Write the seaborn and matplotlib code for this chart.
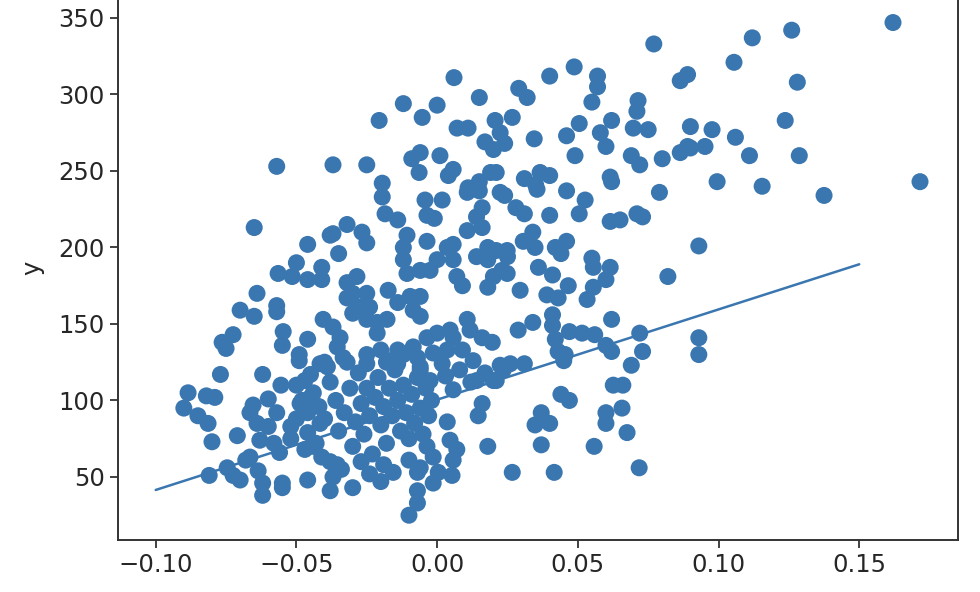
import matplotlib
matplotlib.use("Agg")
import matplotlib.pyplot as plt
import seaborn as sns
import pandas as pd

# scatter points (x = feature, y = target)
x_upper = [0.162, 0.1716, 0.126, 0.112, 0.1055, 0.128, 0.077, 0.0487, 0.057, 0.057, 0.055, 0.040, 0.006, 0.015,
           0.029, 0.032, -0.012, 0.000, 0.0714, 0.071, 0.0864, 0.089, -0.0206, -0.0053, 0.0071, 0.011, 0.0206,
           0.0224, 0.017, 0.020, 0.024, -0.006, -0.009, 0.001, -0.037, -0.025, -0.0195, -0.0064, 0.004, 0.0057,
           0.019, 0.021, 0.015, 0.011, -0.057, 0.0267, 0.0505, 0.062, 0.058, 0.060, 0.046, 0.0345, 0.0697, 0.075,
           0.049, 0.069, 0.072, 0.080, 0.0864, 0.089, 0.0615, 0.062, 0.0366, 0.040, 0.031, 0.035, 0.046, 0.079,
           0.1237, 0.090, 0.0977, 0.0952, 0.106, 0.090, 0.111, 0.1287, 0.0995, 0.1155, 0.1375, 0.093, 0.093, 0.093]
y_upper = [347, 243, 342, 337, 321, 308, 333, 318, 312, 305, 295, 312, 311, 298,
           304, 298, 294, 293, 296, 289, 309, 313, 283, 285, 278, 278, 283,
           275, 269, 264, 268, 262, 258, 260, 254, 254, 242, 249, 247, 251,
           249, 249, 243, 239, 253, 285, 281, 283, 275, 266, 273, 271, 278, 277,
           260, 260, 254, 258, 262, 266, 246, 243, 249, 247, 245, 241, 237, 236,
           283, 279, 277, 266, 272, 265, 260, 260, 243, 240, 234, 201, 141, 130]

x_right = [0.024, 0.0355, 0.0526, 0.0505, 0.040, 0.028, 0.031, 0.0615, 0.065, 0.071, 0.073, 0.034, 0.0306,
           0.0348, 0.0249, 0.046, 0.042, 0.044, 0.055, 0.0555, 0.0615, 0.060, 0.082, 0.0249, 0.036, 0.041,
           0.0466, 0.0295, 0.039, 0.043, 0.0555, 0.0533, 0.041, 0.041, 0.034, 0.0288, 0.062, 0.047, 0.0515,
           0.056, 0.042, 0.043, 0.0455, 0.060, 0.062, 0.072, 0.073, 0.069, 0.026, 0.031,
           0.045, 0.0626, 0.066, 0.044, 0.047, 0.060, 0.0657, 0.060, 0.037, 0.0348, 0.040, 0.0675, 0.037,
           0.0558, 0.0267, 0.0416, 0.0718]
y_right = [234, 238, 231, 222, 221, 226, 222, 217, 218, 222, 220, 210, 204,
           200, 198, 204, 200, 196, 193, 187, 187, 179, 181, 183, 187, 182,
           175, 172, 169, 167, 174, 166, 156, 149, 151, 146, 153, 145, 144,
           143, 140, 132, 130, 136, 132, 144, 132, 123, 124, 124,
           126, 110, 110, 104, 100, 92, 95, 85, 92, 84, 85, 79, 71,
           70, 53, 53, 56]

x_low = [0.016, 0.0146, 0.018, 0.0036, 0.0046, 0.007, 0.0057, 0.0053, -0.0014, 0.0004, -0.0036, -0.0014,
         -0.010, -0.006, -0.007, -0.007, -0.007, -0.010, -0.0156, -0.020, -0.030, -0.038, -0.037, -0.0355,
         -0.014, -0.006, -0.0025, 0.0057, 0.014, 0.020, 0.0235,
         -0.077, -0.062, -0.0555, -0.0885, -0.082, -0.079, -0.090, -0.085, -0.0814, -0.080, -0.081, -0.0654,
         -0.060, -0.071, -0.0746, -0.0725, -0.070, -0.0665, -0.068, -0.062, -0.062, -0.055, -0.055, -0.0636,
         -0.058, -0.063, -0.056, -0.060, -0.064, -0.0665, -0.057, -0.052, -0.047, -0.045, -0.0416, -0.049,
         -0.0487, -0.045, -0.046, -0.0416, -0.044, -0.041, -0.046]
y_low = [98, 90, 70, 86, 74, 68, 61, 51, 46, 53, 70, 63,
         61, 56, 53, 41, 33, 25, 53, 47, 43, 41, 50, 58,
         124, 122, 113, 107, 113, 113, 120,
         117, 117, 110, 105, 103, 102, 95, 90, 85, 73, 51, 97,
         101, 77, 56, 51, 48, 63, 61, 38, 46, 43, 46, 54,
         72, 74, 66, 83, 85, 92, 92, 83, 113, 117, 124, 126,
         98, 102, 79, 85, 70, 63, 48]

x_left = [-0.065, -0.046, -0.050, -0.0565, -0.0515, -0.041, -0.046, -0.041, -0.038, -0.064, -0.057, -0.057,
          -0.070, -0.065, -0.0405, -0.0547, -0.055, -0.046, -0.049, -0.0725, -0.0764, -0.075, -0.040]
y_left = [213, 202, 190, 183, 181, 187, 179, 179, 208, 170, 162, 158,
          159, 155, 153, 145, 136, 140, 130, 143, 138, 134, 125]

x_mid = [-0.0195, -0.0043, 0.0018, -0.0036, -0.001, 0.0107, 0.015, 0.0224, 0.016, 0.014, 0.0107, 0.016,
         -0.0185, -0.014, -0.032, -0.037, -0.0267, -0.025, -0.035, -0.0107, -0.012, -0.012, -0.0107, -0.0036,
         0.0036, 0.0057, 0.000, -0.006, -0.0025, 0.0057, 0.007, 0.009, 0.014, 0.018, 0.021, 0.025, 0.018,
         0.020, 0.018, 0.023, -0.032, -0.0285, -0.025, -0.030, -0.032, -0.0274, -0.024, -0.030, -0.0174,
         -0.014, -0.0096, -0.006, -0.0085, -0.006, -0.025, -0.0213, -0.0178, -0.0213, -0.037, -0.0345,
         -0.0355, -0.0334, -0.020, -0.014, -0.0167, -0.025, -0.0085, -0.007, -0.0036, 0.000, 0.0046, 0.0057,
         -0.0014, 0.0036, 0.0018, 0.0107, 0.0117, 0.016, 0.0196, 0.009, 0.0128, 0.0224]
y_mid = [233, 231, 231, 221, 219, 236, 237, 236, 226, 220, 211, 213,
         222, 218, 215, 209, 210, 203, 196, 208, 200, 192, 183, 204,
         200, 202, 192, 185, 185, 192, 181, 175, 194, 200, 198, 194, 192,
         181, 174, 185, 177, 181, 170, 170, 167, 161, 161, 157, 172,
         164, 168, 168, 159, 155, 153, 151, 153, 144, 148, 141,
         135, 128, 133, 133, 126, 124, 135, 128, 141, 144, 146, 141,
         131, 133, 124, 153, 146, 141, 138, 133, 126, 123]

x_blob = [-0.050, -0.048, -0.046, -0.044, -0.042, -0.040, -0.038, -0.036, -0.035, -0.033, -0.031, -0.030,
          -0.029, -0.028, -0.027, -0.026, -0.025, -0.024, -0.023, -0.022, -0.021, -0.020, -0.019, -0.018,
          -0.017, -0.016, -0.015, -0.014, -0.013, -0.012, -0.011, -0.010, -0.009, -0.008, -0.007, -0.006,
          -0.005, -0.004, -0.003, -0.002, -0.038, -0.034, -0.027, -0.024, -0.019, -0.052, -0.050, -0.047,
          -0.043, -0.039, -0.032, -0.025, -0.018, -0.012, -0.006, 0.003, 0.008, 0.012, 0.017, 0.021]
y_blob = [110, 100, 92, 105, 96, 88, 112, 100, 80, 92, 108, 70,
          86, 118, 98, 78, 108, 90, 65, 102, 115, 84, 96, 72,
          108, 90, 120, 100, 80, 110, 92, 75, 104, 85, 115, 95,
          78, 108, 90, 100, 60, 55, 60, 52, 58, 75, 88, 68,
          72, 122, 125, 130, 125, 130, 120, 116, 120, 112, 118, 113]

# fitted line end points
line_x = [-0.10, 0.15]
line_y = [41.5, 189.0]

x_ticks = [-0.10, -0.05, 0.00, 0.05, 0.10, 0.15]
y_ticks = [50, 100, 150, 200, 250, 300, 350]

df = pd.DataFrame({
    "x": x_upper + x_right + x_low + x_left + x_mid + x_blob,
    "y": y_upper + y_right + y_low + y_left + y_mid + y_blob,
})
line_df = pd.DataFrame({"x": line_x, "y": line_y})

sns.set_style("ticks")
plt.rcParams["font.family"] = ["DejaVu Sans"]
color = "#3a76af"

fig = plt.figure(figsize=(9.8, 5.92), dpi=100)
ax = fig.add_axes([118 / 980, 52 / 592, 840 / 980, 545 / 592])

sns.scatterplot(data=df, x="x", y="y", ax=ax, s=150, color=color, edgecolor="none", linewidth=0)
sns.lineplot(data=line_df, x="x", y="y", ax=ax, color=color, linewidth=1.8)

ax.set_xlim(-0.1134, 0.1851)
ax.set_ylim(8.8, 365)
ax.set_xticks(x_ticks)
ax.set_xticklabels([f"{v:.2f}".replace("-", "\u2212") for v in x_ticks])
ax.set_yticks(y_ticks)
ax.set_yticklabels([str(v) for v in y_ticks])
ax.set_xlabel("")
ax.set_ylabel("y", fontsize=17.5, labelpad=10)
ax.tick_params(labelsize=17.5, length=6, width=1.3, colors="#333333", labelcolor="#262626")
for sp in ax.spines.values():
    sp.set_linewidth(1.4)
    sp.set_color("#333333")

fig.savefig("out.png", dpi=100)
